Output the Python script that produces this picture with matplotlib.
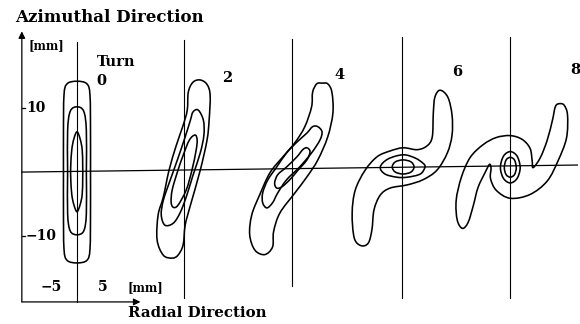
import numpy as np
import matplotlib.pyplot as plt
from matplotlib.path import Path
from matplotlib.patches import PathPatch

# turn numbers and where each turn's frame sits (mm, radial / azimuthal)
turns = ['0', '2', '4', '6', '8']
turn_x = [0.0, 20.6, 41.3, 62.5, 83.3]
turn_y = [0.0, 0.3, 0.5, 0.8, 0.9]
line_top = [20.3, 20.6, 20.8, 21.1, 21.1]
line_bottom = [-20.3, -19.7, -17.8, -19.7, -19.7]

# contour outlines, mm relative to each turn centre
t0_outer = [(0, 14.2), (-1.9, 13.8), (-2.5, 12), (-2.6, 6), (-2.6, 0), (-2.6, -6),
            (-2.5, -12), (-1.9, -13.8), (0, -14.2), (1.9, -13.8), (2.5, -12),
            (2.6, -6), (2.6, 0), (2.6, 6), (2.5, 12), (1.9, 13.8)]
t0_mid = [(0, 10.2), (-1.3, 9.5), (-1.8, 6.5), (-1.8, 0), (-1.8, -6.5), (-1.3, -9.2),
          (0, -9.8), (1.3, -9.2), (1.8, -6.5), (1.8, 0), (1.8, 6.5), (1.3, 9.5)]
t0_inner = [(0, 6.3), (-0.6, 5.2), (-1.0, 3.5), (-1.2, 1), (-1.2, -1), (-1.0, -3.5),
            (-0.6, -5.1), (0, -6.2), (0.6, -5.1), (1.0, -3.5), (1.1, -1),
            (1.1, 1), (1.0, 3.5), (0.6, 5.2)]

t2_outer = [(3.1, 14.1), (1.7, 13.75), (0.8, 12.2), (0.6, 9.4), (-0.2, 7.0),
            (-1.5, 3.9), (-2.9, 0), (-4.0, -4.2), (-5.0, -7.0), (-5.2, -10.9),
            (-4.0, -13.3), (-2.3, -13.75), (-1.2, -13.3), (-0.2, -11.7),
            (0.2, -8.6), (1.2, -5.5), (3.1, 0), (4.4, 4.7), (4.8, 7.8),
            (5.0, 11.7), (4.4, 13.4)]
t2_mid = [(2.7, 9.4), (1.7, 9.1), (1.2, 7.8), (0.2, 5.2), (-1.3, 1.6),
          (-2.7, -1.6), (-4.0, -4.7), (-4.4, -7.0), (-3.7, -8.6), (-2.1, -8.3),
          (-0.8, -6.7), (0.4, -4.2), (1.7, -0.8), (3.1, 2.7), (3.8, 5.5),
          (3.7, 7.8)]
t2_inner = [(2.1, 5.5), (1.0, 4.7), (-0.2, 2.3), (-1.3, -0.3), (-2.3, -3.1),
            (-2.5, -5.0), (-2.1, -5.8), (-1.2, -5.5), (0.4, -3.1), (1.5, 0),
            (2.3, 3.1), (2.5, 4.7)]

t4_outer = [(5.8, 13.4), (4.8, 13.3), (4.0, 12.0), (3.8, 9.7), (2.5, 6.6),
            (0.6, 4.1), (-1.7, 1.9), (-4.2, -0.6), (-6.2, -4.1), (-7.7, -7.2),
            (-8.1, -10.3), (-7.1, -12.7), (-5.2, -13.4), (-3.7, -12.2),
            (-3.5, -9.8), (-2.3, -6.9), (0.6, -3.75), (2.9, -1.25), (5.0, 1.4),
            (6.9, 5.0), (7.9, 8.75), (7.7, 12.0), (6.9, 13.3)]
t4_mid = [(5.0, 6.6), (4.0, 6.6), (2.9, 5.6), (1.0, 4.2), (-1.0, 2.5),
          (-2.9, 0.3), (-4.6, -1.7), (-5.6, -3.75), (-5.6, -5.3), (-4.8, -6.1),
          (-3.7, -5.3), (-2.7, -3.75), (-1.0, -1.7), (1.5, 0.3), (3.8, 2.5),
          (5.4, 4.5), (5.8, 5.8)]
t4_inner = [(2.9, 3.3), (2.1, 3.0), (1.0, 1.9), (-1.0, 0.3), (-2.7, -0.9),
            (-3.3, -2.2), (-2.9, -3.0), (-1.9, -2.8), (-0.4, -1.7), (1.2, -0.2),
            (2.9, 1.4), (3.5, 2.7)]

t6_outer = [(7.3, 12.0), (6.3, 10.9), (6.0, 8.4), (5.8, 4.7), (4.8, 3.3),
            (2.9, 2.7), (0.2, 3.0), (-2.3, 2.5), (-4.8, 1.6), (-7.1, -0.5),
            (-9.0, -3.6), (-9.6, -7.2), (-9.2, -11.1), (-7.9, -12.3),
            (-6.5, -11.9), (-5.8, -9.8), (-5.4, -6.7), (-4.2, -4.4),
            (-2.3, -3.3), (1.0, -2.8), (4.0, -2.0), (6.7, -0.5), (8.7, 2.2),
            (9.6, 5.0), (9.6, 8.1), (8.8, 10.9)]
t6_mid = [(-4.2, 0), (-2.7, 1.25), (0.2, 1.9), (2.5, 1.4), (4.0, 0.6), (4.4, 0),
          (3.5, -1.1), (1.0, -1.6), (-1.0, -1.6), (-3.3, -1.1)]
t6_inner = [(-1.9, 0), (-1.3, 0.8), (0.2, 1.1), (1.7, 0.8), (2.3, 0),
            (1.7, -0.8), (0.2, -1.1), (-1.3, -0.8)]

t8_outer = [(9.6, 9.8), (8.7, 9.4), (8.1, 7.2), (7.1, 4.1), (5.8, 1.4),
            (4.4, -0.2), (4.2, 0.9), (3.8, 2.8), (2.3, 4.2), (0, 4.8),
            (-2.7, 4.5), (-5.2, 3.4), (-7.7, 1.4), (-9.4, -1.7), (-10.4, -5.3),
            (-10.2, -8.4), (-9.2, -9.7), (-8.1, -8.75), (-7.1, -6.1),
            (-6.2, -3.3), (-4.8, -0.9), (-4.0, 0.3), (-3.7, -0.3), (-3.8, -1.9),
            (-2.7, -3.75), (0, -5.0), (3.8, -4.4), (7.1, -2.3), (9.2, 0.9),
            (10.8, 4.4), (11.0, 8.0), (10.4, 9.5)]
t8_mid = [(-1.9, -0.2), (-1.3, 1.6), (0.0, 2.3), (1.3, 1.6), (1.9, -0.2),
          (1.3, -1.9), (0.0, -2.6), (-1.3, -1.9)]
t8_inner = [(-1.15, -0.2), (-0.8, 1.0), (0.0, 1.4), (0.8, 1.0), (1.15, -0.2),
            (0.8, -1.3), (0.0, -1.7), (-0.8, -1.3)]

contours = [[t0_outer, t0_mid, t0_inner],
            [t2_outer, t2_mid, t2_inner],
            [t4_outer, t4_mid, t4_inner],
            [t6_outer, t6_mid, t6_inner],
            [t8_outer, t8_mid, t8_inner]]

# where the turn number sits, relative to the turn centre
label_dx = [4.6, 8.3, 9.2, 10.6, 12.5]
label_dy = [14.2, 14.4, 14.7, 14.8, 15.0]

y_ticks = [10, -10]
y_tick_labels = ['10', '\u221210']
x_ticks = [-5, 5]
x_tick_labels = ['\u22125', '5']


def closed_curve(pts, dx, dy):
    # smooth closed outline through the points (Catmull-Rom as cubic Beziers)
    p = np.asarray(pts, float) + [dx, dy]
    n = len(p)
    verts = [p[0]]
    codes = [Path.MOVETO]
    for i in range(n):
        p0, p1, p2, p3 = p[i - 1], p[i], p[(i + 1) % n], p[(i + 2) % n]
        verts += [p1 + (p2 - p0) / 6, p2 - (p3 - p1) / 6, p2]
        codes += [Path.CURVE4] * 3
    return Path(verts, codes)


def main():
    plt.rcParams['font.family'] = ['DejaVu Serif']
    fig = plt.figure(figsize=(5.8, 3.24), dpi=100)
    ax = fig.add_axes([0, 0, 1, 1])
    ax.set_xlim(-14.8, 96.7)
    ax.set_ylim(-23.75, 26.9)
    ax.axis('off')

    lw = 1.15
    ax_x = -10.6
    ax_y = -20.3

    # axes arrows
    ax.annotate('', xy=(ax_x, 22.0), xytext=(ax_x, ax_y),
                arrowprops=dict(arrowstyle='-|>', color='black', lw=0.9,
                                mutation_scale=10, shrinkA=0, shrinkB=0))
    ax.annotate('', xy=(12.2, ax_y), xytext=(ax_x, ax_y),
                arrowprops=dict(arrowstyle='-|>', color='black', lw=0.9,
                                mutation_scale=10, shrinkA=0, shrinkB=0))

    # the common horizontal centre line
    ax.plot([ax_x, 96.2], [0, 1.1], color='black', lw=0.9)

    for k in range(len(turns)):
        cx, cy = turn_x[k], turn_y[k]
        ax.plot([cx, cx], [line_bottom[k], line_top[k]], color='black', lw=0.8)
        for c in contours[k]:
            ax.add_patch(PathPatch(closed_curve(c, cx, cy), fill=False,
                                   edgecolor='black', lw=lw))
        ax.text(cx + label_dx[k], cy + label_dy[k], turns[k], fontsize=10.5,
                fontweight='bold', ha='center', va='center')

    for t, s in zip(y_ticks, y_tick_labels):
        ax.plot([ax_x, ax_x + 0.7], [t, t], color='black', lw=0.9)
        ax.text(ax_x + 0.8, t, s, fontsize=10, fontweight='bold',
                ha='left', va='center')
    for t, s in zip(x_ticks, x_tick_labels):
        ax.text(t, -18.0, s, fontsize=10, fontweight='bold',
                ha='center', va='center')

    ax.text(-11.9, 24.1, 'Azimuthal Direction', fontsize=12,
            fontweight='bold', ha='left', va='center')
    ax.text(-9.4, 19.8, '[mm]', fontsize=8.5, fontweight='bold',
            ha='left', va='center')
    ax.text(3.8, 17.2, 'Turn', fontsize=10.5, fontweight='bold',
            ha='left', va='center')
    ax.text(9.8, -18.0, '[mm]', fontsize=8.5, fontweight='bold',
            ha='left', va='center')
    ax.text(9.8, -22.0, 'Radial Direction', fontsize=10.8,
            fontweight='bold', ha='left', va='center')

    fig.savefig('out.png', dpi=100)


if __name__ == '__main__':
    main()
